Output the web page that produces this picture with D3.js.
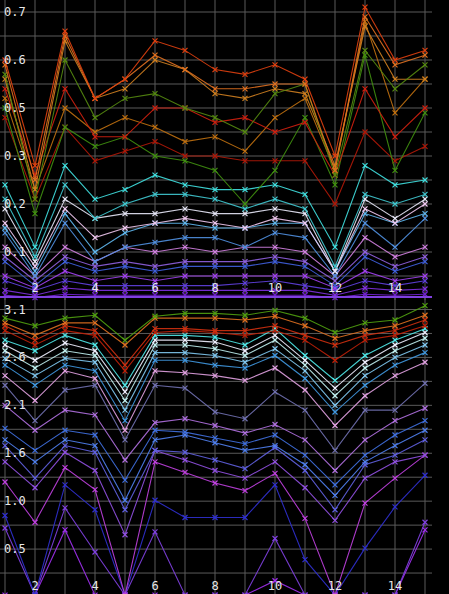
<!DOCTYPE html><html><head><meta charset="utf-8">
<script src="https://cdn.jsdelivr.net/npm/d3@7"></script>
<style>body{margin:0;background:#000}svg{display:block}</style></head><body>
<script>
const xs = d3.range(1,16);
const xTicks = [2,4,6,8,10,12,14];
const topTicks = [0.1,0.2,0.3,0.4,0.5,0.6];
const topTickLabels = ["0.1","0.2","0.3","0.5","0.6","0.7"];
const botTicks = [0.5,1.0,1.5,2.0,2.5,3.0];
const botTickLabels = ["0.5","1.0","1.6","2.1","2.6","3.1"];
const topColors = ["#e04010","#e07020","#558a10","#d08020","#d02010","#c07010","#409010","#b01808","#40e0e0","#40c8d0","#e8e8f8","#f0c8f0","#60b8f0","#5090e0","#d080e0","#9060e0","#4060e0","#a040f0","#6040e0","#8030e0","#7020d0"];
const topSeries = [
[.50,.28,.56,.42,.46,.54,.52,.48,.47,.49,.46,.30,.61,.50,.52],
[.49,.25,.55,.42,.46,.51,.48,.44,.44,.45,.45,.27,.59,.49,.51],
[.47,.21,.50,.38,.42,.43,.40,.38,.35,.43,.45,.26,.52,.44,.49],
[.46,.23,.54,.42,.44,.50,.48,.43,.42,.44,.43,.28,.57,.46,.46],
[.44,.26,.44,.34,.34,.40,.40,.37,.38,.35,.37,.26,.44,.34,.40],
[.42,.23,.40,.35,.38,.36,.33,.34,.31,.38,.42,.27,.58,.39,.46],
[.40,.18,.36,.32,.34,.30,.29,.27,.20,.27,.38,.24,.51,.27,.39],
[.38,.21,.36,.29,.31,.33,.30,.30,.29,.29,.29,.20,.35,.29,.32],
[.24,.11,.28,.21,.23,.26,.24,.23,.23,.24,.22,.11,.28,.24,.25],
[.21,.09,.24,.17,.20,.22,.22,.21,.19,.21,.19,.07,.22,.20,.22],
[.19,.08,.21,.17,.18,.18,.19,.18,.18,.19,.18,.06,.21,.17,.21],
[.16,.07,.19,.13,.15,.16,.17,.16,.15,.17,.16,.06,.19,.16,.20],
[.15,.06,.18,.10,.14,.16,.16,.15,.15,.16,.16,.06,.18,.16,.18],
[.14,.05,.16,.08,.11,.12,.13,.13,.11,.14,.13,.05,.16,.11,.17],
[.11,.05,.11,.08,.11,.10,.11,.10,.11,.11,.10,.05,.13,.09,.11],
[.09,.04,.09,.07,.08,.07,.08,.08,.08,.09,.08,.04,.10,.07,.09],
[.08,.03,.08,.06,.07,.06,.07,.07,.07,.08,.07,.03,.09,.06,.08],
[.05,.025,.06,.04,.05,.04,.05,.05,.05,.05,.05,.025,.06,.04,.05],
[.04,.02,.04,.03,.03,.03,.03,.03,.035,.04,.03,.02,.04,.03,.04],
[.02,.01,.025,.02,.02,.02,.02,.02,.02,.02,.02,.01,.025,.02,.023],
[.01,.005,.012,.01,.01,.01,.01,.01,.01,.01,.01,.005,.012,.01,.012]];
const botColors = ["#50a010","#e07020","#d03010","#c02008","#50e8e8","#f0f0ff","#c0f0f0","#80c8f0","#4098e0","#e0a0e0","#7070b0","#b070e0","#4070e0","#5080f0","#6060e0","#9050e0","#c040e0","#3030d0","#8040e0","#a030f0"];
const botSeries = [
[2.91,2.83,2.91,2.94,2.68,2.93,2.96,2.96,2.94,2.99,2.91,2.76,2.86,2.89,3.04],
[2.86,2.73,2.86,2.86,2.63,2.91,2.91,2.91,2.89,2.93,2.83,2.70,2.78,2.83,2.94],
[2.83,2.68,2.83,2.78,2.42,2.80,2.80,2.78,2.78,2.83,2.73,2.63,2.73,2.78,2.89],
[2.78,2.63,2.78,2.73,2.36,2.76,2.78,2.76,2.73,2.78,2.68,2.47,2.68,2.73,2.83],
[2.68,2.57,2.73,2.63,2.21,2.73,2.73,2.71,2.63,2.80,2.52,2.26,2.52,2.68,2.80],
[2.63,2.47,2.65,2.57,2.14,2.68,2.68,2.66,2.57,2.73,2.47,2.18,2.45,2.63,2.76],
[2.57,2.39,2.57,2.52,2.05,2.63,2.63,2.59,2.52,2.68,2.42,2.10,2.39,2.57,2.70],
[2.49,2.31,2.49,2.45,1.95,2.55,2.55,2.52,2.45,2.59,2.36,2.00,2.31,2.50,2.63],
[2.42,2.21,2.42,2.36,1.84,2.47,2.47,2.42,2.39,2.52,2.28,1.93,2.21,2.42,2.55],
[2.31,2.05,2.36,2.28,1.74,2.36,2.34,2.31,2.26,2.39,2.16,1.79,2.10,2.31,2.45],
[2.21,1.84,2.16,2.21,1.64,2.21,2.18,1.93,1.86,2.14,1.95,1.53,1.95,1.95,2.23],
[2.00,1.74,1.95,1.90,1.43,1.82,1.86,1.79,1.71,1.80,1.64,1.32,1.64,1.84,1.97],
[1.76,1.53,1.74,1.69,1.22,1.74,1.72,1.66,1.60,1.69,1.48,1.17,1.48,1.69,1.84],
[1.64,1.41,1.64,1.58,1.01,1.64,1.69,1.61,1.53,1.58,1.38,1.06,1.41,1.58,1.74],
[1.58,1.24,1.58,1.51,0.91,1.53,1.51,1.43,1.34,1.56,1.32,0.91,1.38,1.48,1.64],
[1.41,1.14,1.51,1.32,0.65,1.53,1.43,1.32,1.24,1.41,1.14,0.80,1.24,1.41,1.48],
[1.20,0.78,1.35,1.12,0.02,1.41,1.30,1.19,1.11,1.29,0.82,0.02,0.98,1.24,1.48],
[0.85,0.02,1.17,0.91,0.02,1.01,0.83,0.83,0.83,1.17,0.39,0.02,0.51,0.94,1.27],
[0.72,0.02,0.93,0.47,0.02,0.68,0.02,0.02,0.02,0.61,0.02,0.02,0.02,0.02,0.78],
[0.02,0.02,0.70,0.02,0.02,0.02,0.02,0.02,0.02,0.17,0.02,0.02,0.02,0.02,0.70]];

const W=449,H=594;
const svg=d3.select("body").append("svg").attr("width",W).attr("height",H).style("background","#000");
const x=d3.scaleLinear().domain([1,15]).range([5,425]);

function panel(y0,y1,domainMax,ticks,labels,series,colors,labelY){
  const y=d3.scaleLinear().domain([0,domainMax]).range([y1,y0]);
  const g=svg.append("g");
  const hv=d3.range(0.5*ticks[0],domainMax+0.0001,ticks[0]/2);
  g.selectAll(".h").data(hv).join("line").attr("x1",0).attr("x2",432)
    .attr("y1",d=>y(d)).attr("y2",d=>y(d)).attr("stroke","#5a5a5a").attr("stroke-width",1);
  g.selectAll(".v").data(xs).join("line").attr("x1",d=>x(d)).attr("x2",d=>x(d))
    .attr("y1",y0).attr("y2",y1).attr("stroke","#5a5a5a").attr("stroke-width",1);
  const line=d3.line().x((d,i)=>x(xs[i])).y(d=>y(d));
  const rev=series.map((s,i)=>({s,c:colors[i]})).reverse();
  rev.forEach(({s,c})=>{
    g.append("path").attr("d",line(s)).attr("fill","none").attr("stroke",c).attr("stroke-width",1.1).attr("opacity",0.9);
    g.selectAll(null).data(s).join("path")
      .attr("d",(d,i)=>{const px=x(xs[i]),py=y(d);return `M${px-2.5},${py-2.5}L${px+2.5},${py+2.5}M${px-2.5},${py+2.5}L${px+2.5},${py-2.5}`;})
      .attr("stroke",c).attr("stroke-width",1.2);
  });
  g.selectAll(".yl").data(ticks).join("text").attr("x",4).attr("y",(d,i)=>y(d)+4)
    .text((d,i)=>labels[i]).attr("fill","#e8e8e8").attr("font-family","DejaVu Sans Mono").attr("font-size",12);
  g.selectAll(".xl").data(xTicks).join("text").attr("x",d=>x(d)).attr("y",labelY)
    .attr("text-anchor","middle").text(d=>d).attr("fill","#e8e8e8").attr("font-family","DejaVu Sans Mono").attr("font-size",12);
}
panel(0,300,0.625,topTicks,topTickLabels,topSeries,topColors,292);
svg.append("line").attr("x1",0).attr("x2",432).attr("y1",297).attr("y2",297).attr("stroke","#8040e0").attr("stroke-width",2);
panel(298,597,3.12,botTicks,botTickLabels,botSeries,botColors,590);
</script></body></html>
